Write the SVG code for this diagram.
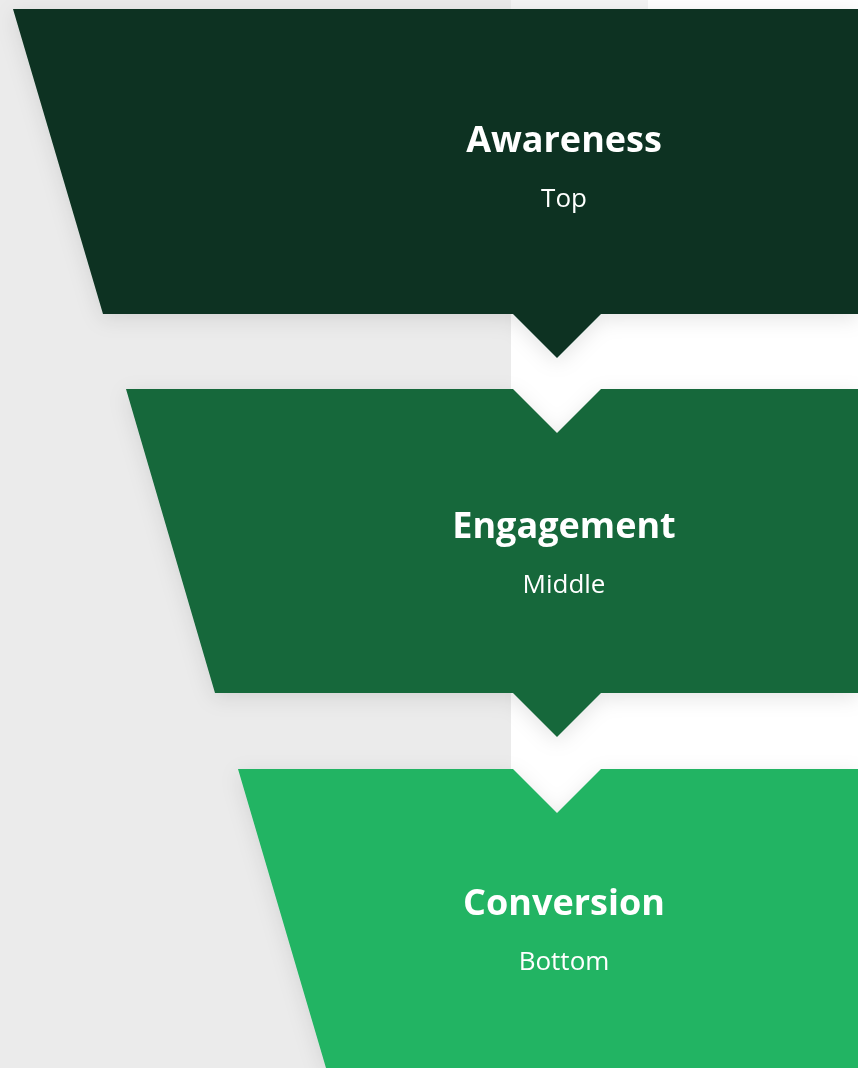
<svg xmlns="http://www.w3.org/2000/svg" width="858" height="1068" viewBox="0 0 858 1068">
  <style>
    .title { font-family: "Open Sans", "Liberation Sans", sans-serif; font-weight: 700; font-size: 36px; fill: #ffffff; text-anchor: middle; }
    .sub { font-family: "Open Sans", "Liberation Sans", sans-serif; font-weight: 400; font-size: 26px; fill: #ffffff; text-anchor: middle; }
  </style>
  <defs>
    <filter id="shade" x="-20%" y="-20%" width="140%" height="150%">
      <feDropShadow dx="0" dy="5" stdDeviation="10" flood-color="#000000" flood-opacity="0.10"/>
    </filter>
  </defs>

  <!-- backdrop: grey panel on the left, white page on the right -->
  <rect x="0" y="0" width="858" height="1068" fill="#ffffff"/>
  <rect x="0" y="0" width="511" height="1068" fill="#ebebeb"/>
  <rect x="511" y="0" width="137" height="9" fill="#f4f4f4"/>

  <!-- funnel stages -->
  <g id="stage-awareness" filter="url(#shade)">
    <polygon points="13,9 858,9 858,314 601,314 557,358 513,314 103,314" fill="#0a3320"/>
    <text class="title" x="564" y="152">Awareness</text>
    <text class="sub" x="564" y="207">Top</text>
  </g>

  <g id="stage-engagement" filter="url(#shade)">
    <polygon points="126,389 513,389 557,433 601,389 858,389 858,693 601,693 557,737 513,693 215,693" fill="#15673b"/>
    <text class="title" x="564" y="538">Engagement</text>
    <text class="sub" x="564" y="593">Middle</text>
  </g>

  <g id="stage-conversion" filter="url(#shade)">
    <polygon points="238,769 513,769 557,813 601,769 858,769 858,1068 326,1068" fill="#23b463"/>
    <text class="title" x="564" y="915">Conversion</text>
    <text class="sub" x="564" y="970">Bottom</text>
  </g>

  <!-- the stages connect through their chevron notches; no separate lines -->
  <g id="connectors"></g>
</svg>
